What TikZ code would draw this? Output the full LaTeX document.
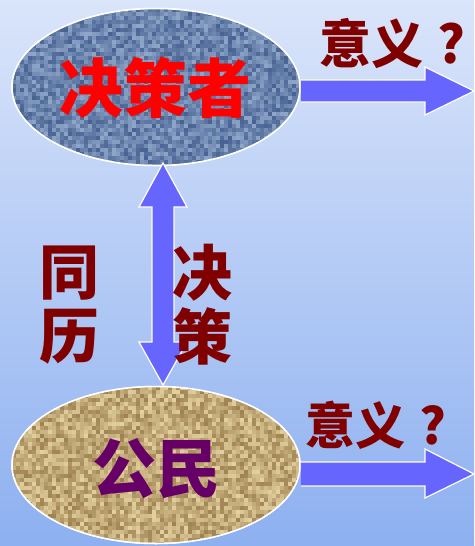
\documentclass[tikz,border=0pt]{standalone}
\usepackage{fontspec}
\newfontfamily\cjk{Noto Sans CJK SC}
\usetikzlibrary{shapes.geometric}
\definecolor{bgtop}{HTML}{DAE5FA}
\definecolor{bgbot}{HTML}{8DB0F0}
\definecolor{arrowblue}{HTML}{6666FF}
\definecolor{denimlight}{HTML}{A9BEDD}
\definecolor{denimdark}{HTML}{2F4C80}
\definecolor{burlaplight}{HTML}{EAD7A6}
\definecolor{burlapdark}{HTML}{7E5E2C}
\definecolor{darkred}{HTML}{800000}
\definecolor{purp}{HTML}{660066}
\tikzset{
  blob/.style={ellipse, draw=white, line width=1.5pt, inner sep=0pt,
    minimum width=288pt, minimum height=157pt},
  blockarrow/.style={fill=arrowblue, draw=white, line width=1.2pt, line join=miter},
  bigtext/.style={font=\cjk\bfseries\fontsize{64}{66}\selectfont, inner sep=0pt},
  qtext/.style={font=\cjk\bfseries\fontsize{52}{54}\selectfont, text=darkred, inner sep=0pt},
  vtext/.style={font=\cjk\bfseries\fontsize{60}{64}\selectfont, text=darkred, inner sep=0pt, align=center}
}
\begin{document}
\begin{tikzpicture}[x=1pt,y=-1pt]
\useasboundingbox (0,0) rectangle (474,546);
\shade[top color=bgtop, bottom color=bgbot] (0,0) rectangle (474,546);
\pgfmathsetseed{7}
% ellipses
\node[blob] (dm) at (156,87) {};
\node[blob] (cz) at (156,465) {};
\begin{scope}
  \clip (156,87) ellipse [x radius=144, y radius=78.5];
  \fill[denimlight!45!denimdark] (10,6) rectangle (302,168);
  \foreach \i in {0,...,72} \foreach \j in {0,...,40} {
    \pgfmathparse{int(20+rnd*60)}\let\r\pgfmathresult
    \fill[denimlight!\r!denimdark] (12+\i*4,8+\j*4) rectangle +(4,4);
  }
\end{scope}
\begin{scope}
  \clip (156,465) ellipse [x radius=144, y radius=78.5];
  \fill[burlaplight!55!burlapdark] (10,384) rectangle (302,546);
  \foreach \i in {0,...,72} \foreach \j in {0,...,40} {
    \pgfmathparse{int(30+rnd*65)}\let\r\pgfmathresult
    \fill[burlaplight!\r!burlapdark] (12+\i*4,386+\j*4) rectangle +(4,4);
  }
\end{scope}
\node[blob] at (dm) {};
\node[blob] at (cz) {};
\node[bigtext, text=red] (dmt) at (155,88) {决策者};
\node[bigtext, text=purp] (czt) at (156,469) {公民};
% vertical double arrow
\coordinate (vt) at (163,163);
\coordinate (vb) at (163,385);
\draw[blockarrow] (vt) -- (187,207) -- (174,207) -- (174,342) -- (187,342) -- (vb)
  -- (139,342) -- (152,342) -- (152,207) -- (139,207) -- cycle;
% right arrows
\coordinate (t1) at (474,91);
\draw[blockarrow] (dm.east |- 0,80) -- (425,80) -- (425,67) -- (t1) -- (425,115) -- (425,102) -- (dm.east |- 0,102);
\coordinate (t2) at (474,474);
\draw[blockarrow] (cz.east |- 0,462) -- (425,462) -- (425,449) -- (t2) -- (425,498) -- (425,486) -- (cz.east |- 0,486);
% labels
\node[qtext] (q1) at (392,44) {意义\hspace{14pt}?};
\node[qtext, font=\cjk\bfseries\fontsize{50}{52}\selectfont] (q2) at (376,425) {意义\hspace{14pt}?};
\node[vtext] (tl) at (69,305) {同\\历};
\node[vtext] (jc) at (202,305) {决\\策};
\end{tikzpicture}
\end{document}
